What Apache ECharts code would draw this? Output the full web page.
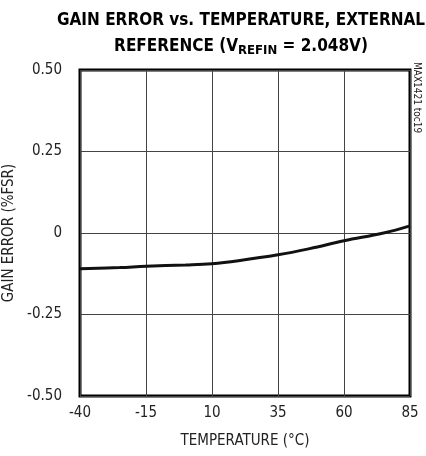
<!DOCTYPE html>
<html><head><meta charset="utf-8">
<script src="https://cdn.jsdelivr.net/npm/echarts@6/dist/echarts.min.js"></script>
<style>html,body{margin:0;padding:0;background:#fff}#c{width:426px;height:456px}</style>
</head><body><div id="c"></div>
<script>
const temps = [-40, -25, -15, 0, 10, 20, 35, 47, 60, 75, 85];
const gainError = [-0.110, -0.106, -0.102, -0.098, -0.094, -0.085, -0.067, -0.048, -0.024, 0.000, 0.022];
const xTicks = [-40, -15, 10, 35, 60, 85];
const yTicks = ['-0.50', '-0.25', '0', '0.25', '0.50'];
const FONT = "'Liberation Sans Narrow','DejaVu Sans Condensed',sans-serif";
const chart = echarts.init(document.getElementById('c'));
chart.setOption({
  animation: false,
  title: {
    left: 236, textAlign: 'center', top: 3,
    text: '{b|GAIN ERROR vs. TEMPERATURE, EXTERNAL}\n{b|REFERENCE (V}{s|REFIN}{b| = 2.048V)}',
    textStyle: {
      rich: {
        b: {fontFamily: FONT, fontWeight: 'bold', fontSize: 17, color: '#000', lineHeight: 26},
        s: {fontFamily: FONT, fontWeight: 'bold', fontSize: 13, color: '#000', lineHeight: 26, padding: [7, 0, 0, 0]}
      }
    }
  },
  grid: {left: 80, right: 16, top: 70, bottom: 60, outerBoundsMode: 'none', containLabel: false,
    show: true, borderColor: '#000', borderWidth: 3, backgroundColor: 'transparent'},
  xAxis: {
    type: 'value', min: -40, max: 85, interval: 25,
    name: 'TEMPERATURE (°C)', nameLocation: 'middle', nameGap: 38,
    nameTextStyle: {fontFamily: FONT, fontSize: 15, color: '#222'},
    axisLine: {show: false}, axisTick: {show: false},
    axisLabel: {fontFamily: FONT, fontSize: 15, color: '#222', margin: 10},
    splitLine: {show: true, lineStyle: {color: '#444', width: 1}}
  },
  yAxis: {
    type: 'value', min: -0.5, max: 0.5, interval: 0.25,
    name: 'GAIN ERROR (%FSR)', nameLocation: 'middle', nameGap: 62,
    nameTextStyle: {fontFamily: FONT, fontSize: 15, color: '#222'},
    axisLine: {show: false}, axisTick: {show: false},
    axisLabel: {fontFamily: FONT, fontSize: 15, color: '#222', margin: 18,
      formatter: v => { const i = Math.round((v + 0.5) / 0.25); return yTicks[i]; }},
    splitLine: {show: true, lineStyle: {color: '#444', width: 1}}
  },
  series: [{
    type: 'line', data: temps.map((t, i) => [t, gainError[i]]),
    smooth: 0.4, showSymbol: false, lineStyle: {color: '#111', width: 3}
  }],
  graphic: [{
    type: 'text', left: 412, top: 62, rotation: -Math.PI / 2, originX: 0, originY: 0,
    style: {text: 'MAX1421 toc19', fontFamily: FONT, fontSize: 10, fill: '#222'}
  }]
});
</script></body></html>
